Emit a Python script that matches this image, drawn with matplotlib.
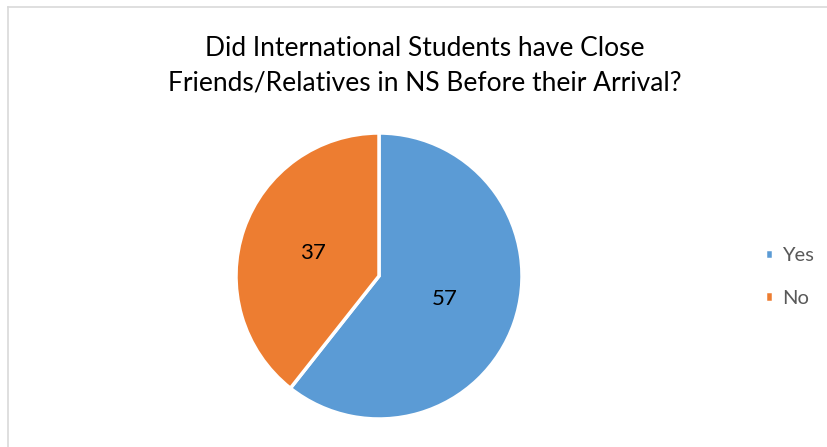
import matplotlib
matplotlib.use("Agg")
import matplotlib.pyplot as plt
from matplotlib.lines import Line2D

plt.rcParams['font.family'] = ['Lato', 'DejaVu Sans']

title = "Did International Students have Close\nFriends/Relatives in NS Before their Arrival?"
categories = ["Yes", "No"]
values = [57, 37]
colors = ["#5B9BD5", "#ED7D31"]

W, H = 828, 447
fig = plt.figure(figsize=(W / 100, H / 100), dpi=100)

# thin chart-area border (top and left visible in the crop)
fig.add_artist(Line2D([8 / W, 1], [1 - 7 / H, 1 - 7 / H], color="#D9D9D9", lw=1.2))
fig.add_artist(Line2D([8 / W, 8 / W], [0, 1 - 7 / H], color="#D9D9D9", lw=1.2))

# pie centred at (379, 276) px with radius 143 px
cx, cy, r = 379, 276, 143
ax = fig.add_axes([(cx - r) / W, (H - cy - r) / H, 2 * r / W, 2 * r / H])
wedges, texts = ax.pie(
    values, colors=colors, startangle=90, counterclock=False,
    labels=[str(v) for v in values], labeldistance=0.49,
    wedgeprops=dict(edgecolor="white", linewidth=2.5, clip_on=False),
    textprops=dict(fontsize=16, color="black", ha="center", va="center"),
)
ax.set_xlim(-1.0, 1.0)
ax.set_ylim(-1.0, 1.0)
ax.set_aspect("equal")

fig.text(425 / W, 1 - 66 / H, title, ha="center", va="center",
         fontsize=19, color="black", linespacing=1.45)

leg = fig.legend(wedges, categories, loc="center left",
                 bbox_to_anchor=(765 / W, 1 - 277 / H), frameon=False,
                 borderpad=0, borderaxespad=0,
                 fontsize=14.5, handlelength=0.42, handleheight=0.42,
                 handletextpad=0.45, labelspacing=1.25)
for t in leg.get_texts():
    t.set_color("#595959")

fig.savefig("out.png", dpi=100, facecolor="white")
